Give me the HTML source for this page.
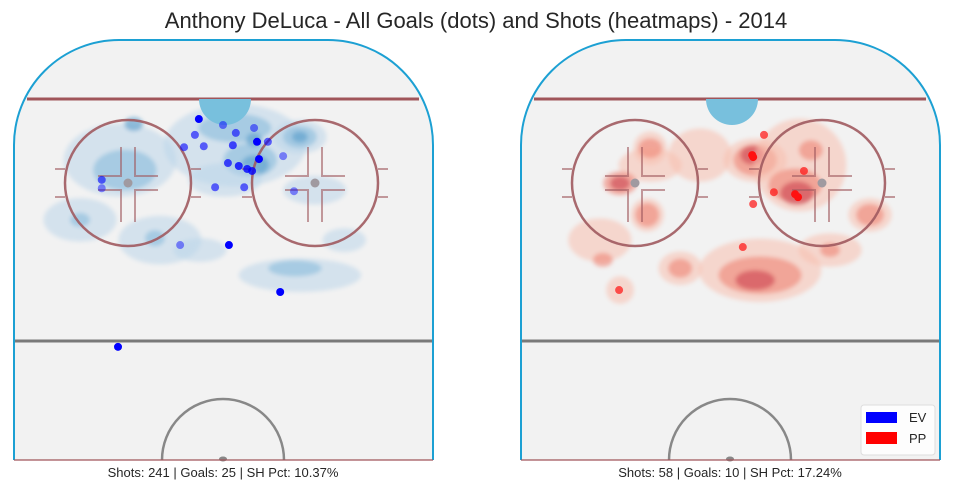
<!DOCTYPE html>
<html><head><meta charset="utf-8"><style>
body{margin:0;background:#fff;width:953px;height:493px;overflow:hidden;font-family:"Liberation Sans",sans-serif}
svg{display:block}
</style></head><body>
<svg id="chart" width="953" height="493" viewBox="0 0 953 493">
<defs><filter id="blur" x="-20%" y="-20%" width="140%" height="140%"><feGaussianBlur stdDeviation="2"/></filter></defs>
<text x="476" y="28" text-anchor="middle" font-size="22" fill="#262626">Anthony DeLuca - All Goals (dots) and Shots (heatmaps) - 2014</text>
<g id="rinkL"></g>
<g id="rinkR"></g>
<text x="223" y="477" text-anchor="middle" font-size="13" fill="#262626">Shots: 241 | Goals: 25 | SH Pct: 10.37%</text>
<text x="730" y="477" text-anchor="middle" font-size="13" fill="#262626">Shots: 58 | Goals: 10 | SH Pct: 17.24%</text>
<g>
<rect x="861" y="405" width="74" height="50" rx="3" fill="#fff" fill-opacity="0.85" stroke="#ddd"/>
<rect x="866" y="412" width="31" height="11" fill="#0000ff"/>
<text x="909" y="422" font-size="13" fill="#262626">EV</text>
<rect x="866" y="432" width="31" height="12" fill="#ff0000"/>
<text x="909" y="443" font-size="13" fill="#262626">PP</text>
</g>
</svg>
<script>
// goal locations in feet (x across rink 0-85, y from end boards)
const evGoalX=[37.5,42.4,36.7,45.0,48.7,49.3,51.5,34.5,38.5,44.4,54.6,49.7,43.4,45.6,47.3,48.3,17.8,17.8,40.8,46.7,56.8,33.7,43.6,54.0,21.1];
const evGoalY=[16.0,17.2,19.2,18.8,17.8,20.6,20.6,21.7,21.5,21.3,23.5,24.1,24.9,25.5,26.1,26.5,28.3,30.0,29.8,29.8,30.6,41.5,41.5,51.0,62.1];
const evGoalAlpha=[1,0.5,0.6,0.6,0.5,1,0.6,0.6,0.6,0.7,0.45,1,0.7,0.8,0.8,0.8,0.6,0.45,0.6,0.6,0.45,0.45,1,1,1];
const ppGoalX=[49.3,46.9,47.1,57.4,51.3,55.6,56.2,47.1,45.0,19.9];
const ppGoalY=[19.2,23.3,23.7,26.5,30.8,31.2,31.8,33.2,41.9,50.6];
const ppGoalAlpha=[0.7,1,1,0.7,0.7,1,1,0.7,0.7,0.7];
// shot density blobs: x, y, rx, ry (ft), level
const evBlobX=[21.5,22.5,24.3,44.8,44.8,47.9,48.9,48.7,58,58,58,61,42.8,13.4,13.4,29.6,28.6,37.7,58,57,67];
const evBlobY=[24.3,26.3,17,21.3,17.8,24.3,25.3,20.2,19.6,19.6,19.6,30.4,28.3,36.4,36.4,40.5,40.1,42.5,47.6,46.2,40.5];
const evBlobRX=[11,6,1.5,14,7,5,2.4,1.2,5,3,1.2,6,7,7,1.6,8,1.6,5,12,5,4];
const evBlobRY=[7,3.7,1,8,2.5,3,1.6,1,3,1.8,0.7,2.5,3,4,1,4.5,1.2,2,3,1.2,2];
const evBlobL=[1,2,3,1,2,2,3,3,1,2,3,1,1,1,2,1,2,1,1,2,1];
const ppBlobX=[26.2,20.1,20.1,26.2,26.2,25.6,25.6,16,16.6,32.3,32.3,20.1,36.3,47.5,47.5,46.9,56.6,55.6,56,58.8,70.8,70.8,62.7,62.7,48.5,48.5,47.5];
const ppBlobY=[25.3,29,29,21.9,21.9,35.4,35.4,40.5,44.5,46.2,46.2,50.6,23.3,24.3,24.3,23.3,25.3,29.4,31,22.3,35.4,35.4,42.5,42.5,46.6,47.6,48.6];
const ppBlobRX=[6,3,1.6,3,2,3,2,6,1.6,4,2,2.4,6,6,4,2,9,5,3,2,4,2.4,6,1.6,12,8,3.6];
const ppBlobRY=[3,2,1,3,1.6,3,2,4,1,3,1.5,2.4,5,4,2.8,1.5,9,3,2,1.6,3,1.8,3,1,6,3.4,1.6];
const ppBlobL=[1,2,3,1,2,1,2,1,2,1,2,1,1,1,2,3,1,2,3,2,1,2,1,2,1,2,3];

const NS='http://www.w3.org/2000/svg';
const TOP=40,W=419,H=420;
function sx(L,v){return L+v*W/85;}
function sy(v){return TOP+v*H/85;}
function sr(v){return v*W/85;}
function mk(t,a,p){const e=document.createElementNS(NS,t);for(const k in a)e.setAttribute(k,a[k]);p.appendChild(e);return e;}

function drawRink(g,L,bx,by,brx,bry,bl,cols,gx,gy,ga,dotCol){
  const R=L+W,B=TOP+H,cr=105;
  const boards=mk('path',{d:`M${L},${B} L${L},${TOP+cr} A${cr},${cr} 0 0 1 ${L+cr},${TOP} L${R-cr},${TOP} A${cr},${cr} 0 0 1 ${R},${TOP+cr} L${R},${B} Z`,fill:'#f2f2f2',stroke:'none'},g);
  
  
  const hm=mk('g',{filter:'url(#blur)'},g);
  
  
  for(let i=0;i<bx.length;i++){
    const e=mk('ellipse',{cx:sx(L,bx[i]),cy:sy(by[i]),rx:sr(brx[i])+2,ry:sr(bry[i])+2,fill:cols[bl[i]-1],'fill-opacity':bl[i]==1?0.55:0.65},hm);
    
    
  }
  mk('line',{x1:L+13,y1:99,x2:R-14,y2:99,stroke:'#a0555a','stroke-width':3},g);
  mk('path',{d:`M${L+185},99 A26,26 0 0 0 ${L+237},99 Z`,fill:'#78c0dd'},g);
  mk('line',{x1:L,y1:341,x2:R,y2:341,stroke:'#7a7a7a','stroke-width':3},g);
  for(const cx of [L+114,L+301]){
    const c=mk('circle',{cx:cx,cy:183,r:63,fill:'none',stroke:'#a05a5f','stroke-width':2.5,'stroke-opacity':0.9},g);
    
    
    const hs='#a05a5f';
    let d='';
    d+=`M${cx-73},169 H${cx-63} M${cx-73},197 H${cx-63} M${cx+63},169 H${cx+73} M${cx+63},197 H${cx+73}`;
    d+=`M${cx-7},147 V176 H${cx-30} M${cx+7},147 V176 H${cx+30} M${cx-7},222 V190 H${cx-30} M${cx+7},222 V190 H${cx+30}`;
    mk('path',{d:d,fill:'none',stroke:hs,'stroke-width':2,'stroke-opacity':0.6},g);
    mk('circle',{cx:cx,cy:183,r:4.5,fill:'#a09aa0'},g);
  }
  mk('path',{d:`M${L+148},${B} A61,61 0 0 1 ${L+270},${B}`,fill:'none',stroke:'#888','stroke-width':2.5},g);
  mk('ellipse',{cx:L+209,cy:B-1,rx:4,ry:2.5,fill:'#888'},g);
  mk('path',{d:`M${L},${B} L${L},${TOP+cr} A${cr},${cr} 0 0 1 ${L+cr},${TOP} L${R-cr},${TOP} A${cr},${cr} 0 0 1 ${R},${TOP+cr} L${R},${B}`,fill:'none',stroke:'#1ca0d3','stroke-width':2},g);
  mk('line',{x1:L,y1:B,x2:R,y2:B,stroke:'#a0555a','stroke-width':1.2},g);
  for(let i=0;i<gx.length;i++){
    const d=mk('circle',{cx:sx(L,gx[i]),cy:sy(gy[i]),r:4,fill:dotCol,'fill-opacity':ga[i]},g);
    
    
  }
}
drawRink(document.getElementById('rinkL'),14,evBlobX,evBlobY,evBlobRX,evBlobRY,evBlobL,['#bcd6ea','#8fbfdd','#5e9fcc'],evGoalX,evGoalY,evGoalAlpha,'#0000ff');
drawRink(document.getElementById('rinkR'),521,ppBlobX,ppBlobY,ppBlobRX,ppBlobRY,ppBlobL,['#f7bfae','#ef8c7c','#cf4a55'],ppGoalX,ppGoalY,ppGoalAlpha,'#ff1010');
</script>
</body></html>
